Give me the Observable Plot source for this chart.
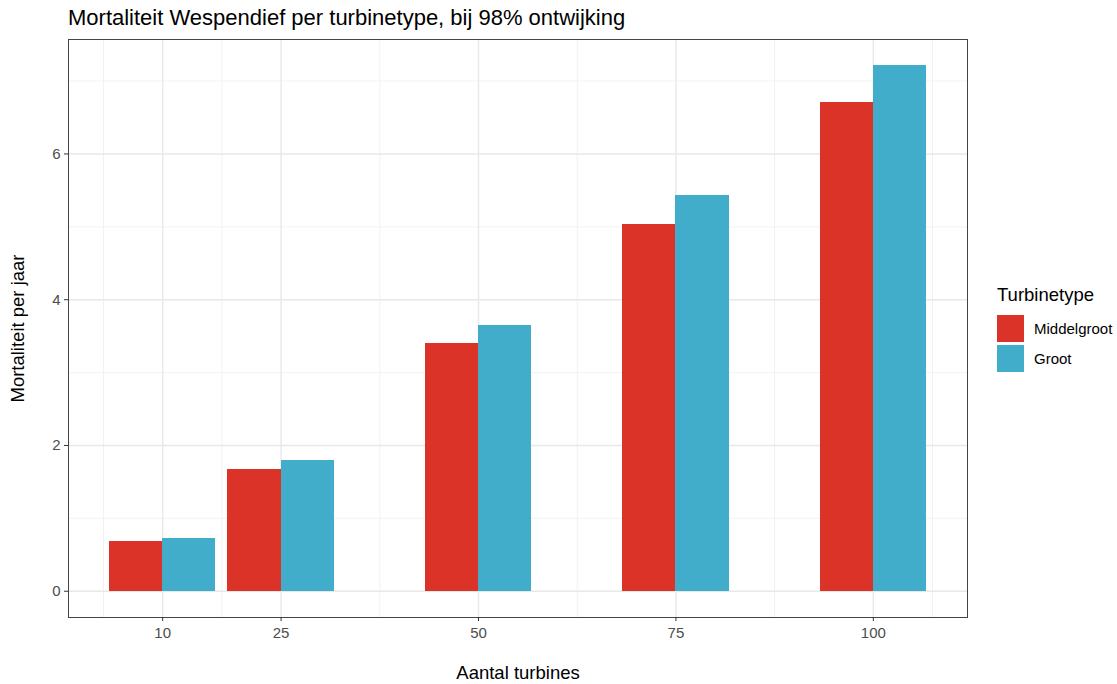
<!DOCTYPE html>
<html>
<head>
<meta charset="utf-8">
<script src="https://cdn.jsdelivr.net/npm/d3@7"></script>
<script src="https://cdn.jsdelivr.net/npm/@observablehq/plot@0.6"></script>
<style>
  html, body { margin: 0; padding: 0; background: #fff; }
  #wrap { position: relative; width: 1117px; height: 684px; font-family: "Liberation Sans", Arial, Helvetica, sans-serif; overflow: hidden; }
  #title { box-sizing: border-box; height: 30px; padding-top: 7px; padding-left: 68px; font-size: 22px; line-height: 22px; color: #000; white-space: nowrap; }
  #legend { position: absolute; left: 997px; top: 283px; color: #000; }
  #legend .lt { font-size: 18.5px; line-height: 24px; height: 30px; }
  #legend .row { display: flex; align-items: center; height: 30px; }
  #legend .sw { width: 27px; height: 27px; margin-right: 10px; }
  #legend .lab { font-size: 15px; }
  svg { display: block; }
</style>
</head>
<body>
<div id="wrap">
  <div id="title">Mortaliteit Wespendief per turbinetype, bij 98% ontwijking</div>
  <div id="chart"></div>
  <div id="legend"></div>
</div>
<script>
// ---- data ----
const turbines = [10, 25, 50, 75, 100];
const middelgroot = [0.68, 1.67, 3.40, 5.03, 6.70];
const groot = [0.72, 1.79, 3.65, 5.43, 7.21];
const types = ["Middelgroot", "Groot"];
const colors = ["#DB3328", "#42ADCB"];
const xTicks = [10, 25, 50, 75, 100];
const yTicks = [0, 2, 4, 6];
const xMinor = [2.5, 17.5, 37.5, 62.5, 87.5, 107.5];
const yMinor = [1, 3, 5, 7];
const xLabel = "Aantal turbines";
const yLabel = "Mortaliteit per jaar";
const legendTitle = "Turbinetype";

// ---- derived table (ggplot-like dodge) ----
const resolution = d3.min(d3.pairs(turbines), ([a, b]) => b - a);
const totalW = 0.9 * resolution;
const half = totalW / 2;
const rows = [];
turbines.forEach((t, i) => {
  rows.push({type: types[0], x1: t - half, x2: t, value: middelgroot[i]});
  rows.push({type: types[1], x1: t, x2: t + half, value: groot[i]});
});
const xmin = d3.min(turbines) - half, xmax = d3.max(turbines) + half;
const xpad = (xmax - xmin) * 0.05;
const ymax = d3.max(groot.concat(middelgroot));
const ypad = ymax * 0.05;

const chart = Plot.plot({
  width: 1117,
  height: 654,
  marginLeft: 68,
  marginRight: 150,
  marginTop: 9,
  marginBottom: 67,
  style: {fontFamily: '"Liberation Sans", Arial, Helvetica, sans-serif', background: "#fff"},
  x: {type: "linear", domain: [xmin - xpad, xmax + xpad]},
  y: {domain: [0 - ypad, ymax + ypad]},
  color: {domain: types, range: colors},
  marks: [
    Plot.ruleX(xMinor, {stroke: "#F2F2F2", strokeWidth: 1}),
    Plot.ruleY(yMinor, {stroke: "#F2F2F2", strokeWidth: 1}),
    Plot.ruleX(xTicks, {stroke: "#E8E8E8", strokeWidth: 1.4}),
    Plot.ruleY(yTicks, {stroke: "#E8E8E8", strokeWidth: 1.4}),
    Plot.rect(rows, {x1: "x1", x2: "x2", y1: 0, y2: "value", fill: "type", shapeRendering: "crispEdges"}),
    Plot.frame({stroke: "#444", strokeWidth: 1}),
    Plot.axisX(xTicks, {tickSize: 4, tickPadding: 6, fontSize: 15, color: "#4D4D4D", stroke: "#333", label: null, tickFormat: d => String(d)}),
    Plot.axisY(yTicks, {tickSize: 4, tickPadding: 4, fontSize: 15, color: "#4D4D4D", stroke: "#333", label: null, tickFormat: d => String(d)}),
    Plot.text([xLabel], {frameAnchor: "bottom", lineAnchor: "top", dy: 48, fontSize: 18.5, fill: "#000"}),
    Plot.text([yLabel], {frameAnchor: "left", textAnchor: "middle", rotate: -90, dx: -50, fontSize: 18.5, fill: "#000"})
  ]
});
document.getElementById("chart").appendChild(chart);

// ---- legend ----
const lg = document.getElementById("legend");
const lt = document.createElement("div");
lt.className = "lt";
lt.textContent = legendTitle;
lg.appendChild(lt);
types.forEach((t, i) => {
  const r = document.createElement("div");
  r.className = "row";
  const sw = document.createElement("div");
  sw.className = "sw";
  sw.style.background = colors[i];
  const lab = document.createElement("div");
  lab.className = "lab";
  lab.textContent = t;
  r.appendChild(sw);
  r.appendChild(lab);
  lg.appendChild(r);
});
</script>
</body>
</html>
